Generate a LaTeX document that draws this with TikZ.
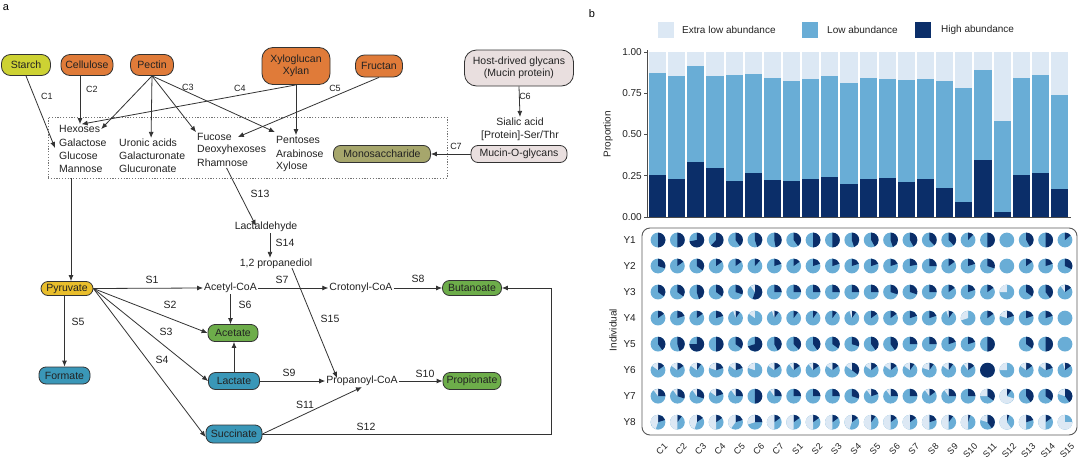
\documentclass[tikz,border=0pt]{standalone}
\usepackage{fontspec}
\setmainfont{Liberation Sans}
\usetikzlibrary{arrows.meta,calc}
\definecolor{cxl}{HTML}{DCE8F4}
\definecolor{clow}{HTML}{69ADD6}
\definecolor{chigh}{HTML}{0B2E69}
\definecolor{corange}{HTML}{E07B39}
\definecolor{cstarch}{HTML}{CDD233}
\definecolor{cgold}{HTML}{E9BE2C}
\definecolor{cgreen}{HTML}{6DAD4A}
\definecolor{cblue}{HTML}{3A97B8}
\definecolor{colive}{HTML}{A6A66C}
\definecolor{chost}{HTML}{E9DFDF}
\definecolor{cline}{HTML}{333333}
\definecolor{ctext}{HTML}{222222}
\tikzset{
  lbl/.style={font=\fontsize{10.5}{12}\selectfont, inner sep=1pt, text=ctext},
  clbl/.style={font=\fontsize{9}{10}\selectfont, inner sep=0pt, text=ctext},
  slbl/.style={font=\fontsize{10.5}{12}\selectfont, inner sep=0pt, text=ctext},
  pbox/.style={draw=cline, line width=0.8pt, rounded corners=7pt, inner sep=0pt,
               font=\fontsize{10.5}{12}\selectfont, text=ctext, align=center},
  arr/.style={draw=cline, line width=0.8pt, -{Latex[length=6pt,width=5pt]}},
  ln/.style={draw=cline, line width=0.8pt},
  rtxt/.style={font=\fontsize{10}{12}\selectfont, text=ctext, inner sep=1pt},
  xtxt/.style={font=\fontsize{9}{10}\selectfont, text=ctext, inner sep=0pt},
}
\newcommand\pierow[2]{%
  \pgfmathsetmacro\py{240+26.03*(#1-1)}%
  \node[rtxt, anchor=east] (yl#1) at (637,\py) {Y#1};%
  \foreach \h/\e [count=\c from 0] in {#2} {%
    \pgfmathsetmacro\px{658+19.38*\c}%
    \ifdim\h pt<0pt\else
      \begin{scope}[shift={(\px,\py)}, yscale=-1]
        \fill[clow] (0,0) circle[radius=7.4];
        \ifdim\h pt>0pt
          \fill[chigh] (0,0) -- (0,7.4) arc[start angle=90, end angle={90-360*\h}, radius=7.4] -- cycle;
        \fi
        \ifdim\e pt>0pt
          \fill[cxl] (0,0) -- (0,7.4) arc[start angle=90, end angle={90+360*\e}, radius=7.4] -- cycle;
        \fi
      \end{scope}
    \fi
  }%
}
\begin{document}
\begin{tikzpicture}[x=1pt,y=-1pt]
\useasboundingbox (0,0) rectangle (1080,461);
\fill[white] (0,0) rectangle (1080,461);

% ---------- panel a ----------
\node[font=\fontsize{11}{12}\selectfont, inner sep=0pt] (la) at (6,8) {a};

\node[pbox, fill=cstarch, minimum width=49pt, minimum height=21pt, rounded corners=9pt] (starch) at (26,65) {Starch};
\node[pbox, fill=corange, minimum width=52pt, minimum height=21pt, rounded corners=9pt] (cellulose) at (87,65) {Cellulose};
\node[pbox, fill=corange, minimum width=43pt, minimum height=21pt, rounded corners=9pt] (pectin) at (152,65) {Pectin};
\node[pbox, fill=corange, minimum width=68pt, minimum height=37pt, rounded corners=11pt] (xylo) at (296,66) {Xyloglucan\\Xylan};
\node[pbox, fill=corange, minimum width=47pt, minimum height=22pt, rounded corners=9pt] (fructan) at (379,66) {Fructan};
\node[pbox, fill=chost, minimum width=109pt, minimum height=36pt, rounded corners=12pt] (host) at (519,68) {Host-drived glycans\\(Mucin protein)};

\node[lbl] (sialic) at (520,122) {Sialic acid};
\node[lbl] (protein) at (520,136) {[Protein]-Ser/Thr};
\node[pbox, fill=chost, minimum width=96pt, minimum height=17pt] (mucin) at (519,154) {Mucin-O-glycans};

% pool
\node[draw=black!55, line width=0.8pt, dash pattern=on 1.2pt off 1.6pt, minimum width=399pt, minimum height=61pt, inner sep=0pt] (pool) at (247.5,147.5) {};
\node[pbox, fill=colive, minimum width=97pt, minimum height=17pt] (mono) at (382,154) {Monosaccharide};

\node[lbl, anchor=west] (hexoses) at (58,129) {Hexoses};
\node[lbl, anchor=west] (galactose) at (58,143) {Galactose};
\node[lbl, anchor=west] (glucose) at (58,156) {Glucose};
\node[lbl, anchor=west] (mannose) at (58,169) {Mannose};
\node[lbl, anchor=west] (uronic) at (118,143) {Uronic acids};
\node[lbl, anchor=west] (galact) at (118,156) {Galacturonate};
\node[lbl, anchor=west] (glucur) at (118,169) {Glucuronate};
\node[lbl, anchor=west] (fucose) at (196,137) {Fucose};
\node[lbl, anchor=west] (deoxy) at (196,150) {Deoxyhexoses};
\node[lbl, anchor=west] (rhamnose) at (196,163) {Rhamnose};
\node[lbl, anchor=west] (pentoses) at (275,140) {Pentoses};
\node[lbl, anchor=west] (arabinose) at (275,154) {Arabinose};
\node[lbl, anchor=west] (xylose) at (275,167) {Xylose};

\coordinate (c1end) at (55,148);
\draw[arr] (starch.south) -- (c1end);
\draw[arr] ([xshift=-7pt]cellulose.south) -- ([xshift=-7pt]cellulose.south |- hexoses.north);
\draw[arr] (pectin.south) -- (hexoses.east);
\draw[arr] (pectin.south) -- ([xshift=3pt]uronic.north);
\draw[arr] (pectin.south) -- (fucose.north west);
\draw[arr] (pectin.south) -- ([yshift=3pt]pentoses.north west);
\draw[arr] (xylo.south) -- ([xshift=2pt]hexoses.north);
\draw[arr] (xylo.south) -- (xylo.south |- pentoses.north);
\draw[arr] (fructan.south) -- ([xshift=5pt]fucose.east);
\draw[arr] (host.south) -- (sialic.north);
\draw[arr] (mucin.west) -- (mono.east);

\node[clbl] (lc1) at (47,96) {C1};
\node[clbl] (lc2) at (92,89) {C2};
\node[clbl] (lc3) at (188,87) {C3};
\node[clbl] (lc4) at (240,88) {C4};
\node[clbl] (lc5) at (335,88) {C5};
\node[clbl] (lc6) at (525,96) {C6};
\node[clbl] (lc7) at (456,146) {C7};

% lower part
\node[lbl] (lactald) at (266,227) {Lactaldehyde};
\node[lbl] (propdiol) at (276,264) {1,2 propanediol};
\node[pbox, fill=cgold, minimum width=52pt, minimum height=14pt] (pyruvate) at (67,288.5) {Pyruvate};
\node[lbl] (acetylcoa) at (230.5,288) {Acetyl-CoA};
\node[lbl] (crotonyl) at (361,288) {Crotonyl-CoA};
\node[pbox, fill=cgreen, minimum width=59pt, minimum height=15pt] (butanoate) at (472,288) {Butanoate};
\node[pbox, fill=cgreen, minimum width=50pt, minimum height=17pt] (acetate) at (233,333) {Acetate};
\node[pbox, fill=cblue, minimum width=51pt, minimum height=17pt] (formate) at (64.5,375.5) {Formate};
\node[pbox, fill=cblue, minimum width=51pt, minimum height=17pt] (lactate) at (234,381) {Lactate};
\node[lbl] (propanoyl) at (362,381) {Propanoyl-CoA};
\node[pbox, fill=cgreen, minimum width=58pt, minimum height=17pt] (propionate) at (472,381) {Propionate};
\node[pbox, fill=cblue, minimum width=56pt, minimum height=18pt] (succinate) at (234,434) {Succinate};

\coordinate (poolout) at (71,178);
\draw[arr] (poolout) -- (poolout |- pyruvate.north);
\draw[arr] ([xshift=4pt]rhamnose.south) -- ([xshift=-10pt,yshift=-5pt]lactald.north);
\draw[arr] ([xshift=4pt]lactald.south) -- ([xshift=4pt]lactald.south |- propdiol.north);
\draw[arr] (pyruvate.east) -- (acetylcoa.west);
\draw[arr] (pyruvate.east) -- (acetate.west);
\draw[arr] (pyruvate.east) -- (lactate.west);
\draw[arr] (pyruvate.east) -- ([yshift=-3pt]succinate.west);
\draw[arr] (pyruvate.south -| formate.north) -- (formate.north);
\draw[arr] (acetylcoa.south) -- (acetylcoa.south |- acetate.north);
\draw[arr] (lactate.north) -- (lactate.north |- acetate.south);
\draw[arr] (acetylcoa.east) -- (crotonyl.west);
\draw[arr] (crotonyl.east) -- (butanoate.west);
\draw[arr] (lactate.east) -- (propanoyl.west);
\draw[arr] (propanoyl.east) -- (propionate.west);
\draw[arr] (succinate.east) -- (propanoyl.south);
\draw[arr] ([xshift=16pt,yshift=2pt]propdiol.south) -- ([xshift=-25pt,yshift=-3pt]propanoyl.north);
\coordinate (c12) at (551,434);
\draw[arr] (succinate.east) -- (c12) |- (butanoate.east);

\node[slbl] (s1) at (152,280) {S1};
\node[slbl] (s2) at (170,305) {S2};
\node[slbl] (s3) at (166,332) {S3};
\node[slbl] (s4) at (162,360) {S4};
\node[slbl] (s5) at (78,322) {S5};
\node[slbl] (s6) at (245,305) {S6};
\node[slbl] (s7) at (282,280) {S7};
\node[slbl] (s8) at (418,279) {S8};
\node[slbl] (s9) at (289,373) {S9};
\node[slbl] (s10) at (425,374) {S10};
\node[slbl] (s11) at (305,405) {S11};
\node[slbl] (s12) at (366,427) {S12};
\node[slbl] (s13) at (260,194) {S13};
\node[slbl] (s14) at (285,243) {S14};
\node[slbl] (s15) at (330,319) {S15};

% ---------- panel b ----------
\node[font=\fontsize{11}{12}\selectfont, inner sep=0pt] (lb) at (592,14) {b};

% legend
\fill[cxl] (658,22) rectangle (674,38);
\node[rtxt, anchor=west] (lg1) at (681,30) {Extra low abundance};
\fill[clow] (802,22) rectangle (818,38);
\node[rtxt, anchor=west] (lg2) at (826,30) {Low abundance};
\fill[chigh] (915,22) rectangle (931,38);
\node[rtxt, anchor=west] (lg3) at (940,30) {High abundance};

% bars
\foreach \h/\t [count=\i from 0] in {.255/.875, .232/.856, .333/.915, .295/.855, .218/.862, .265/.867, .222/.84, .218/.826, .228/.836, .24/.853, .198/.812, .228/.842, .234/.838, .214/.83, .228/.838, .176/.824, .089/.782, .347/.891, .032/.58, .255/.842, .267/.861, .172/.739} {
  \pgfmathsetmacro\bx{649+19.14*\i}
  \fill[cxl] (\bx,52) rectangle ({\bx+17.2},217);
  \fill[clow] (\bx,{217-165*\t}) rectangle ({\bx+17.2},217);
  \fill[chigh] (\bx,{217-165*\h}) rectangle ({\bx+17.2},217);
}
\draw[black!70, line width=0.6pt] (647,50) -- (647,217.5) -- (1071,217.5);
\foreach \v/\l [count=\k] in {0/0.00, 0.25/0.25, 0.5/0.50, 0.75/0.75, 1/1.00} {
  \draw[black!70, line width=0.6pt] (644,{217-165*\v}) -- (647,{217-165*\v});
  \node[rtxt, anchor=east] (tk\k) at (643,{217-165*\v}) {\l};
}
\node[rtxt, rotate=90] (ylab) at (608,134) {Proportion};

% pie panel
\draw[black!65, line width=0.9pt, rounded corners=8pt] (642,228) rectangle (1077,435);
\node[rtxt, rotate=90] (ind) at (613,330) {Individual};

\pierow{1}{.5/0, .5/0, .72/0, .62/0, .4/0, .45/0, .47/0, .4/0, .5/0, .5/0, .45/0, .42/0, .45/0, .42/0, .38/0, .38/0, .12/0, .5/0, 0/0, .42/0, .5/0, .14/0}
\pierow{2}{.3/0, .15/0, .35/0, .15/0, .15/0, .12/0, .2/0, .15/0, .2/0, .2/0, .2/0, .2/0, .2/0, .22/0, .25/0, .15/0, .2/0, .3/0, 0/0, .15/0, .2/0, .32/0}
\pierow{3}{.35/0, .35/0, .45/0, .35/0, .3/0, .55/.1, .25/0, .25/0, .25/0, .25/0, .25/0, .25/0, .3/0, .3/0, .25/0, .15/0, .2/0, .15/0, 0/.25, .35/0, .4/0, .15/.1}
\pierow{4}{.15/0, .2/0, .15/0, .2/0, .1/.05, 0/.15, .1/.05, .1/0, .1/0, .1/0, .1/.05, .15/0, .15/0, .2/0, .2/0, .1/.05, 0/.3, .15/0, .2/.2, .2/0, .2/0, 0/0}
\pierow{5}{.4/0, .45/0, .75/0, .5/0, .35/0, .7/0, .42/0, .38/0, .4/0, .35/0, .3/0, .4/0, .4/0, .25/0, .25/0, .2/0, .2/0, .5/0, -1/0, .35/0, .5/0, 0/0}
\pierow{6}{.15/.15, .15/.15, .1/.15, .2/.2, .2/.15, 0/.2, .15/.15, .15/.1, .15/.1, .15/.15, .35/.15, .15/.15, .15/.15, .1/.15, .1/.2, .1/.15, .15/.1, 1/0, 0/.25, .15/.15, .2/.15, .15/.05}
\pierow{7}{.25/.1, .3/.1, .3/.1, .2/.15, .25/.1, .5/0, .25/.1, .25/0, .25/0, .25/0, .3/0, .2/.1, .25/.1, .25/0, .15/.1, .25/.1, .25/0, .35/.25, .1/.7, .4/0, .35/0, .4/.2}
\pierow{8}{.2/.45, .1/.5, .15/.45, .15/.5, .2/.4, .25/.3, .15/.5, .15/.5, .15/.5, .15/.5, .15/.45, .1/.5, .15/.5, .15/.5, .2/.5, .1/.5, .05/.5, .4/.2, .05/.6, .2/.5, .15/.5, 0/.75}

\foreach \lab [count=\c from 0] in {C1,C2,C3,C4,C5,C6,C7,S1,S2,S3,S4,S5,S6,S7,S8,S9,S10,S11,S12,S13,S14,S15} {
  \pgfmathsetmacro\px{658+19.38*\c+8}
  \node[xtxt, rotate=45, anchor=east] (xl\c) at (\px,445) {\lab};
}
\end{tikzpicture}
\end{document}
